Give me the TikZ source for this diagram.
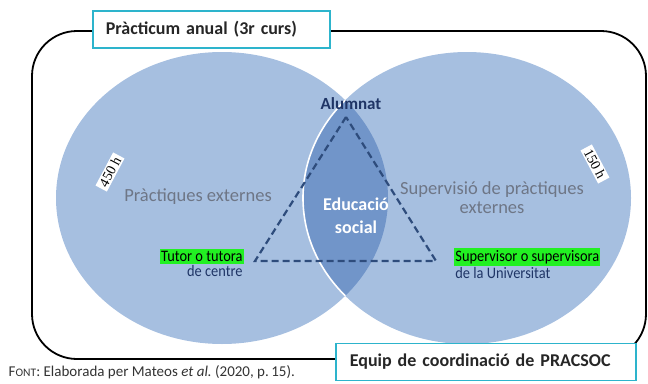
\documentclass[tikz,border=0pt]{standalone}
\usepackage{fontspec}
\setmainfont{Carlito}
\newfontfamily\timesfont{Liberation Serif}
\newfontfamily\narrowfont[FakeStretch=0.9]{Carlito}
\definecolor{circleblue}{HTML}{A6BFE0}
\definecolor{lensblue}{HTML}{7195C9}
\definecolor{boxcyan}{HTML}{2DB4CC}
\definecolor{navy}{HTML}{1F3566}
\definecolor{dashblue}{HTML}{2E4C7C}
\definecolor{labelgray}{HTML}{6E7686}
\definecolor{hlgreen}{HTML}{22F022}

\begin{document}
\begin{tikzpicture}[
        x=1pt, y=-1pt,
        thick,
        font=\fontsize{13}{15}\selectfont
    ]
    \tikzset{
        titlebox/.style = {rectangle, draw=boxcyan, line width=1.6pt, fill=white, align=left, minimum height=37pt, inner xsep=13pt, font=\bfseries\fontsize{18}{20}\selectfont, text=black!85},
        hourbox/.style = {rectangle, fill=white, draw=none, inner xsep=3pt, inner ysep=1.5pt, font=\timesfont\fontsize{14}{16}\selectfont},
        partlabel/.style = {align=center, text=labelgray, font=\fontsize{18.5}{19}\selectfont},
        highlight/.style = {fill=hlgreen, inner xsep=1pt, inner ysep=2pt, text=black, font=\narrowfont\fontsize{16}{18}\selectfont},
        subline/.style = {inner xsep=1pt, inner ysep=1pt, text=navy, font=\narrowfont\fontsize{16}{18}\selectfont},
        triangle/.style = {dashblue, line width=2.2pt, dash pattern=on 7pt off 4pt}
    }
    \useasboundingbox (0,0) rectangle (648,383);
    % frame of the practicum
    \draw[line width=1.8pt, rounded corners=45pt] (32,31) rectangle (646,359);
    % the two circles and their lens
    \fill[circleblue] (222,198) ellipse [x radius=166, y radius=146];
    \fill[circleblue] (467,198) ellipse [x radius=164, y radius=146];
    \begin{scope}
        \clip (222,198) ellipse [x radius=166, y radius=146];
        \fill[lensblue] (467,198) ellipse [x radius=164, y radius=146];
        \draw[white, line width=1.6pt] (467,198) ellipse [x radius=164, y radius=146];
    \end{scope}
    % triangle
    \coordinate (alumnat) at (346,117);
    \coordinate (tutor) at (255,261);
    \coordinate (supervisor) at (436,261);
    \draw[triangle] (alumnat) -- (tutor) -- (supervisor) -- cycle;
    % labels
    \node[text=navy, font=\bfseries\fontsize{17}{18}\selectfont] (alumnatlabel) at (351,104) {Alumnat};
    \node[align=center, text=white, font=\bfseries\fontsize{18}{23}\selectfont] (educacio) at (356,216) {Educació\\social};
    \node[partlabel] (externes) at (198,197) {Pràctiques externes};
    \node[partlabel] (supervisio) at (492,198) {Supervisió de pràctiques\\externes};
    \node[hourbox, rotate=62] (hleft) at (110,172) {450 h};
    \node[hourbox, rotate=-62] (hright) at (595,164) {150 h};
    \node[highlight, anchor=east] (tutortext) at (244,256.5) {Tutor o tutora};
    \node[subline, anchor=north east] (centre) at (tutortext.south east) {de centre};
    \node[highlight, anchor=west] (supertext) at (454,257) {Supervisor o supervisora};
    \node[subline, anchor=north west] (universitat) at (supertext.south west) {de la Universitat};
    % title boxes
    \node[titlebox, anchor=west, text width=211pt] (practicum) at (92,29.5) {Pràcticum anual (3r curs)};
    \node[titlebox, anchor=west, text width=272pt, inner xsep=14pt] (equip) at (335,362) {Equip de coordinació de PRACSOC};
    \node[anchor=west, text=black!80, font=\fontsize{15}{17}\selectfont] (source) at (5,372) {F{\fontsize{11.5}{13}\selectfont ONT}: Elaborada per Mateos \textit{et al.}\ (2020, p.\,15).};
\end{tikzpicture}
\end{document}
